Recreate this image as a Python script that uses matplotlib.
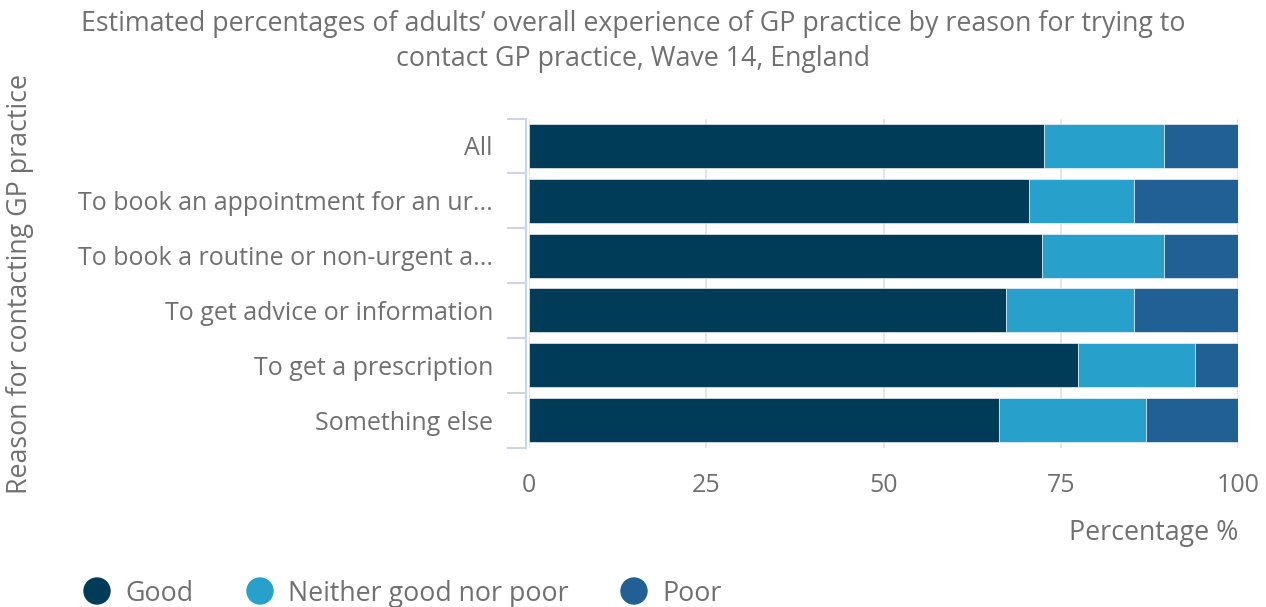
import matplotlib
matplotlib.use("Agg")
import matplotlib.pyplot as plt
import matplotlib.transforms as mtransforms
import numpy as np

categories = [
    "All",
    "To book an appointment for an ur...",
    "To book a routine or non-urgent a...",
    "To get advice or information",
    "To get a prescription",
    "Something else",
]
good = [72.7, 70.5, 72.4, 67.3, 77.5, 66.3]
neither = [16.8, 14.9, 17.1, 18.1, 16.4, 20.7]
poor = [10.5, 14.6, 10.5, 14.6, 6.1, 13.0]
series_names = ["Good", "Neither good nor poor", "Poor"]
colors = ["#003c57", "#27a0cc", "#206095"]
x_ticks = [0, 25, 50, 75, 100]

text_color = "#707070"
axis_color = "#ccd4e6"

plt.rcParams["font.family"] = ["Open Sans", "DejaVu Sans"]

W, H = 1266, 607
fig = plt.figure(figsize=(W / 100, H / 100), dpi=100)
ax = fig.add_axes([529 / W, 1 - 447.5 / H, 709 / W, 329 / H])

y = np.arange(len(categories))
left = np.zeros(len(categories))
for vals, name, col in zip([good, neither, poor], series_names, colors):
    ax.barh(y, vals, left=left, height=0.8, color=col, label=name,
            edgecolor="#ffffff", linewidth=0.4, zorder=3)
    left = left + np.array(vals)

ax.set_xlim(0, 100)
ax.set_ylim(len(categories) - 0.5, -0.5)
ax.set_xticks(x_ticks)
ax.set_xticklabels([str(t) for t in x_ticks])
ax.grid(axis="x", color="#e0e0e0", linewidth=1.2, zorder=0)

ax.set_yticks(y)
ax.set_yticklabels(categories)
ax.set_yticks(np.arange(-0.5, len(categories)), minor=True)
ax.tick_params(axis="y", which="major", length=0, pad=24, labelsize=18, labelcolor=text_color)
ax.tick_params(axis="y", which="minor", length=14, width=1.5, color=axis_color)
ax.tick_params(axis="x", length=0, pad=18, labelsize=18, labelcolor=text_color)

# nudge category labels slightly downward
shift = mtransforms.ScaledTranslation(0, -3 / 100, fig.dpi_scale_trans)
for lbl in ax.get_yticklabels():
    lbl.set_transform(lbl.get_transform() + shift)

for s in ["top", "right", "bottom"]:
    ax.spines[s].set_visible(False)
ax.spines["left"].set_color(axis_color)
ax.spines["left"].set_linewidth(1.5)
ax.spines["left"].set_position(("outward", 2))

fig.text(0.5, 1 - 41.5 / H,
         "Estimated percentages of adults’ overall experience of GP practice by reason for trying to\n"
         "contact GP practice, Wave 14, England",
         ha="center", va="center", fontsize=19.3, color=text_color, linespacing=1.3)
fig.text(1238 / W, 1 - 533 / H, "Percentage %", ha="right", va="center", fontsize=19.3, color=text_color)
fig.text(20 / W, 1 - 284 / H, "Reason for contacting GP practice", rotation=90,
         ha="center", va="center", fontsize=19.3, color=text_color)

# legend along the bottom
leg_items = [(97, "Good"), (260, "Neither good nor poor"), (634, "Poor")]
for (px, name), col in zip(leg_items, colors):
    fig.patches.append(matplotlib.patches.Ellipse((px / W, 1 - 591 / H), 26 / W, 26 / H,
                                                  transform=fig.transFigure, color=col))
    fig.text((px + 28) / W, 1 - 594 / H, name, ha="left", va="center", fontsize=19.3, color=text_color)

fig.savefig("out.png", dpi=100)
